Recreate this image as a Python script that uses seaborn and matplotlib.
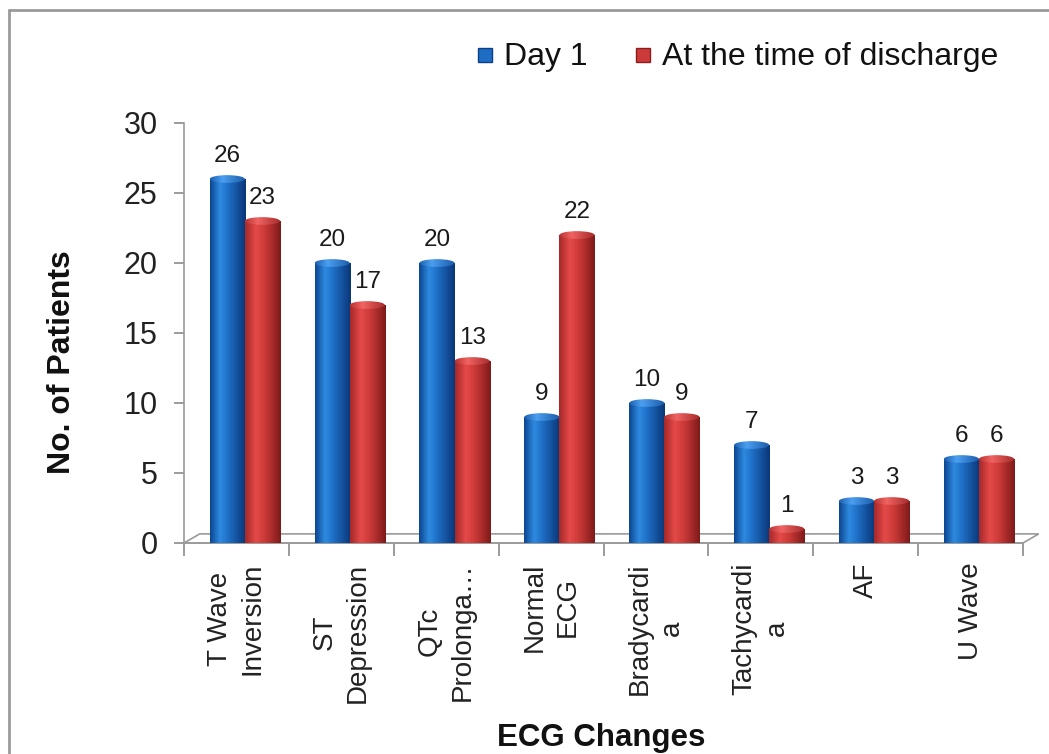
import numpy as np
import pandas as pd
import matplotlib
matplotlib.use("Agg")
import matplotlib.pyplot as plt
from matplotlib.colors import LinearSegmentedColormap
from matplotlib.patches import Ellipse, Polygon, Rectangle
from matplotlib.lines import Line2D
import seaborn as sns

# ECG findings and patient counts
categories = ["T Wave\nInversion", "ST\nDepression", "QTc\nProlonga…", "Normal\nECG",
              "Bradycardi\na", "Tachycardi\na", "AF", "U Wave"]
series_names = ["Day 1", "At the time of discharge"]
day1 = [26, 20, 20, 9, 10, 7, 3, 6]
discharge = [23, 17, 13, 22, 9, 1, 3, 6]
y_ticks = [0, 5, 10, 15, 20, 25, 30]

df = pd.DataFrame({
    "category": categories * 2,
    "series": [series_names[0]] * len(categories) + [series_names[1]] * len(categories),
    "value": day1 + discharge,
})

sns.set_style("white")
plt.rcParams["font.family"] = ["Liberation Sans", "DejaVu Sans"]

W, H = 1049, 754
fig = plt.figure(figsize=(W / 100, H / 100), dpi=100)
ax = fig.add_axes([184 / W, 1 - 543 / H, 839 / W, 420 / H])

base_colors = {"Day 1": "#1a63b8", "At the time of discharge": "#c83434"}
sns.barplot(data=df, x="category", y="value", hue="series", palette=base_colors,
            width=0.67, dodge=True, legend=False, ax=ax, saturation=1, zorder=3)

body_cmaps = [
    LinearSegmentedColormap.from_list("blue_body", [(0, "#0c4590"), (0.28, "#2e8ae0"),
                                                    (0.5, "#1f70c8"), (1, "#0a3677")]),
    LinearSegmentedColormap.from_list("red_body", [(0, "#a52828"), (0.3, "#e44a48"),
                                                   (0.55, "#cc3a38"), (1, "#7e1a1a")]),
]
cap_cmaps = [
    LinearSegmentedColormap.from_list("blue_cap", [(0, "#1b5fb0"), (0.35, "#4c9ff0"), (1, "#1a5aa8")]),
    LinearSegmentedColormap.from_list("red_cap", [(0, "#b83232"), (0.35, "#f06462"), (1, "#a42a2a")]),
]
grad = np.linspace(0, 1, 256).reshape(1, -1)
cap_h = 0.55
shift = 0.08

for ci, container in enumerate(ax.containers):
    for patch in container.patches:
        x0 = patch.get_x() + shift
        patch.set_x(x0)
        w = patch.get_width()
        h = patch.get_height()
        patch.set_edgecolor("none")
        im = ax.imshow(grad, cmap=body_cmaps[ci], extent=[x0, x0 + w, 0, h],
                       aspect="auto", zorder=4, interpolation="bicubic")
        im.set_clip_path(patch)
        cap = Ellipse((x0 + w / 2, h), w, cap_h, facecolor="none", edgecolor="none", zorder=5)
        ax.add_patch(cap)
        im2 = ax.imshow(grad, cmap=cap_cmaps[ci],
                        extent=[x0, x0 + w, h - cap_h / 2, h + cap_h / 2],
                        aspect="auto", zorder=5, interpolation="bicubic")
        im2.set_clip_path(cap)
        ax.annotate(f"{h:g}", (x0 + w / 2, h), xytext=(0, 9), textcoords="offset points",
                    ha="center", va="bottom", fontsize=17.5, color="#1a1a1a", zorder=6)

ax.set_xlim(-0.5, len(categories) - 0.5)
ax.set_ylim(0, 30)

# perspective floor under the bars
dx_back, dy_back = 0.15, 0.65
floor = Polygon([(-0.5, 0), (len(categories) - 0.5, 0),
                 (len(categories) - 0.5 + dx_back, dy_back), (-0.5 + dx_back, dy_back)],
                closed=True, facecolor="white", edgecolor="#9a9a9a", lw=1.2,
                clip_on=False, zorder=1)
ax.add_patch(floor)

ax.set_yticks(y_ticks)
ax.tick_params(axis="y", which="major", labelsize=22, length=7, width=1.2,
               color="#8a8a8a", pad=12, left=True, labelcolor="#222222")
ax.set_xticks(range(len(categories)))
ax.set_xticklabels(categories, rotation=90, fontsize=20, color="#222222",
                   ha="center", va="top", multialignment="center", linespacing=1.32)
ax.set_xticks(np.arange(-0.5, len(categories), 1.0), minor=True)
ax.tick_params(axis="x", which="major", length=0, pad=14)
ax.tick_params(axis="x", which="minor", length=9, width=1.2, color="#8a8a8a", bottom=True)

for side in ["top", "right"]:
    ax.spines[side].set_visible(False)
for side in ["left", "bottom"]:
    ax.spines[side].set_color("#9a9a9a")
    ax.spines[side].set_linewidth(1.2)
ax.set_xlabel("")
ax.set_ylabel("")

fig.text(62 / W, 1 - 362 / H, "No. of Patients", rotation=90, fontsize=23,
         fontweight="bold", ha="center", va="center", color="#111111")
fig.text(601 / W, 1 - 738 / H, "ECG Changes", fontsize=22.5, fontweight="bold",
         ha="center", va="center", color="#111111")

# legend
legend_items = [(485, "#1f6cc4", "#0c3f86", series_names[0]),
                (643, "#cc3a3a", "#8a1e1e", series_names[1])]
for cx, fc, ec, label in legend_items:
    fig.patches.append(Rectangle(((cx - 7) / W, 1 - 62 / H), 14 / W, 14 / H,
                                 facecolor=fc, edgecolor=ec, lw=1,
                                 transform=fig.transFigure, figure=fig))
    fig.text((cx + 19) / W, 1 - 57 / H, label, fontsize=23, ha="left", va="center",
             color="#111111")

# outer frame
fig.add_artist(Line2D([9 / W, 1.0], [1 - 10 / H, 1 - 10 / H], color="#9a9a9a", lw=2,
                      transform=fig.transFigure))
fig.add_artist(Line2D([9 / W, 9 / W], [0, 1 - 10 / H], color="#9a9a9a", lw=2,
                      transform=fig.transFigure))

fig.savefig("out.png", dpi=100, facecolor="white")
